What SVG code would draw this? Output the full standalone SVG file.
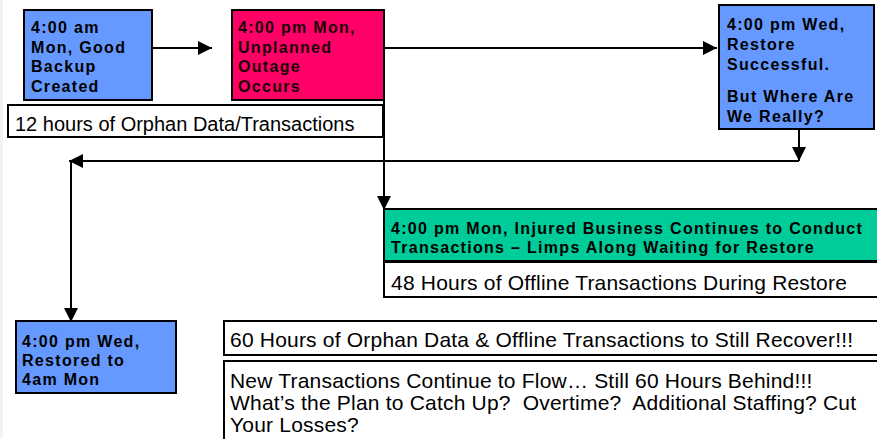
<svg xmlns="http://www.w3.org/2000/svg" width="877" height="439" viewBox="0 0 877 439">
<style>
.box{stroke:#000;stroke-width:2}
.blue{fill:#6699FF}
.pink{fill:#FF0066}
.green{fill:#00CC99}
.white{fill:#fff}
.b{font-family:"Liberation Sans",Arial,sans-serif;font-weight:bold;font-size:16px;letter-spacing:1.3px;fill:#000}
.r{font-family:"Liberation Sans",Arial,sans-serif;font-size:21px;letter-spacing:0.2px;fill:#000}
.ln{stroke:#000;stroke-width:2;fill:none}
</style>
<defs>
<marker id="ah" viewBox="0 0 10 10" refX="10" refY="5" markerWidth="14" markerHeight="14" markerUnits="userSpaceOnUse" orient="auto">
<path d="M0,0 L10,5 L0,10 Z" fill="#000"/>
</marker>
</defs>
<rect x="0" y="0" width="877" height="439" fill="#fff"/>
<rect x="0" y="0" width="3" height="439" fill="#f3f3f3"/>
<g id="connectors">
<line class="ln" x1="152" y1="48" x2="212" y2="48" marker-end="url(#ah)"/>
<line class="ln" x1="384" y1="48" x2="717" y2="48" marker-end="url(#ah)"/>
<line class="ln" x1="384" y1="100" x2="384" y2="210" marker-end="url(#ah)"/>
<line class="ln" x1="799" y1="129" x2="799" y2="161" marker-end="url(#ah)"/>
<line class="ln" x1="799" y1="161" x2="69" y2="161" marker-end="url(#ah)"/>
<line class="ln" x1="71" y1="161" x2="71" y2="322" marker-end="url(#ah)"/>
</g>
<g id="n1">
<rect class="box blue" x="24" y="10" width="128" height="90"/>
<text class="b"><tspan x="31" y="33">4:00 am</tspan><tspan x="31" y="52.7">Mon, Good</tspan><tspan x="31" y="72.4">Backup</tspan><tspan x="31" y="92">Created</tspan></text>
</g>
<g id="n2">
<rect class="box pink" x="232" y="10" width="152" height="90"/>
<text class="b" style="fill:#1a0008"><tspan x="238" y="33">4:00 pm Mon,</tspan><tspan x="238" y="52.7">Unplanned</tspan><tspan x="238" y="72.4">Outage</tspan><tspan x="238" y="92">Occurs</tspan></text>
</g>
<g id="n3">
<rect class="box white" x="8" y="105" width="375" height="32"/>
<text class="r" x="15" y="131" style="font-size:20px;letter-spacing:0">12 hours of Orphan Data/Transactions</text>
</g>
<g id="n4">
<rect class="box blue" x="719" y="5" width="155" height="124"/>
<text class="b"><tspan x="727" y="30">4:00 pm Wed,</tspan><tspan x="727" y="50">Restore</tspan><tspan x="727" y="70">Successful.</tspan><tspan x="727" y="102">But Where Are</tspan><tspan x="727" y="122">We Really?</tspan></text>
</g>
<g id="n5">
<rect class="box green" x="384" y="209" width="500" height="52"/>
<text class="b"><tspan x="391" y="234">4:00 pm Mon, Injured Business Continues to Conduct</tspan><tspan x="391" y="253">Transactions – Limps Along Waiting for Restore</tspan></text>
</g>
<g id="n6">
<rect class="box white" x="384" y="262" width="500" height="35"/>
<text class="r" x="391" y="290">48 Hours of Offline Transactions During Restore</text>
</g>
<g id="n7">
<rect class="box blue" x="16" y="321" width="160" height="72"/>
<text class="b"><tspan x="22" y="347">4:00 pm Wed,</tspan><tspan x="22" y="366">Restored to</tspan><tspan x="22" y="385">4am Mon</tspan></text>
</g>
<g id="n8">
<rect class="box white" x="224" y="321" width="660" height="34"/>
<text class="r" x="230" y="347">60 Hours of Orphan Data &amp; Offline Transactions to Still Recover!!!</text>
</g>
<g id="n9">
<rect class="box white" x="224" y="361" width="660" height="90"/>
<text class="r" xml:space="preserve" style="white-space:pre"><tspan x="230" y="388">New Transactions Continue to Flow… Still 60 Hours Behind!!!</tspan><tspan x="230" y="410">What’s the Plan to Catch Up?  Overtime?  Additional Staffing? Cut</tspan><tspan x="230" y="432">Your Losses?</tspan></text>
</g>
</svg>
